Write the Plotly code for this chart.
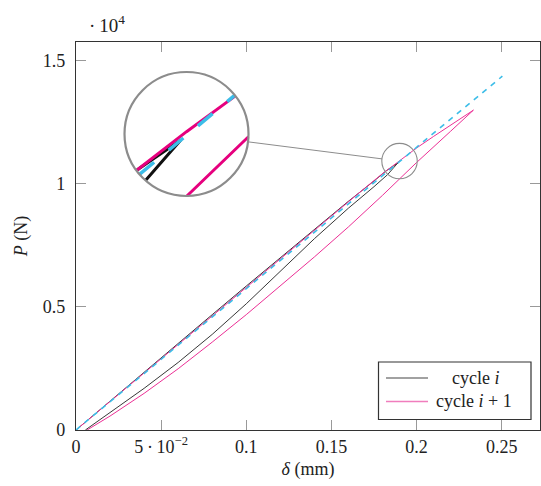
import math
import plotly.graph_objects as go

# ---------------- data ----------------
# cycle i : loading branch then unloading branch
cyc_i_load_x = [0, 0.02, 0.04, 0.06, 0.08, 0.10, 0.12, 0.14, 0.16, 0.175, 0.182, 0.189]
cyc_i_load_y = [0, 1180, 2350, 3520, 4680, 5840, 7000, 8150, 9280, 10100, 10505, 10835]
cyc_i_unload_x = [0.183, 0.175, 0.16, 0.14, 0.12, 0.10, 0.08, 0.06, 0.04, 0.02, 0.0055]
cyc_i_unload_y = [10360, 9870, 9000, 7760, 6440, 5120, 3880, 2740, 1690, 720, 0]

# cycle i+1
cyc_j_load_x = [0, 0.03, 0.06, 0.09, 0.12, 0.15, 0.17, 0.18, 0.19, 0.20, 0.21, 0.22, 0.2334]
cyc_j_load_y = [0, 1740, 3480, 5210, 6950, 8690, 9835, 10400, 10935, 11440, 11910, 12375, 12976]
cyc_j_unload_x = [0.22, 0.20, 0.18, 0.16, 0.14, 0.12, 0.10, 0.08, 0.06, 0.04, 0.02, 0.0065]
cyc_j_unload_y = [12120, 10850, 9520, 8240, 7020, 5840, 4680, 3565, 2485, 1486, 566, 0]

# dashed reference stiffness line
ref_x = [0, 0.2504]
ref_y = [0, 14355]

x_tickvals = [0, 0.05, 0.1, 0.15, 0.2, 0.25]
x_ticktext = ["0", "5\u2009·\u200910<sup>\u22122</sup>", "0.1", "0.15", "0.2", "0.25"]
y_tickvals = [0, 5000, 10000, 15000]
y_ticktext = ["0", "0.5", "1", "1.5"]

legend_labels = ["cycle <i>i</i>", "cycle <i>i</i> + 1"]

# ---------------- layout constants ----------------
W, H = 541, 486
ML, MR, MT, MB = 76, 1, 42, 56
PW, PH = W - ML - MR, H - MT - MB
X_RANGE = [0, 0.2725]
Y_RANGE = [0, 15740]
kx = PW / (X_RANGE[1] - X_RANGE[0])
ky = PH / (Y_RANGE[1] - Y_RANGE[0])

SPY_X, SPY_Y = 0.19, 10908       # centre of the magnified spot
INSET_X, INSET_Y = 0.0649, 12008  # centre of the inset
R_BIG = 62.0
MAG = 3.5
R_SMALL = R_BIG / MAG

BLACK = "#383838"
MAGENTA = "#ec2f95"
MAGENTA_DEEP = "#e6007e"
CYAN = "#3cbde8"
GREY = "#8c8c8c"
FONT = "Liberation Serif"
TXT = "#222222"


def px(xp):
    return (xp - ML) / PW


def py(yp):
    return (H - MB - yp) / PH


cyc_i_x = cyc_i_load_x + cyc_i_unload_x
cyc_i_y = cyc_i_load_y + cyc_i_unload_y
cyc_j_x = cyc_j_load_x + cyc_j_unload_x
cyc_j_y = cyc_j_load_y + cyc_j_unload_y


def spy(xs, ys):
    """Clip polyline to the small circle and map it into the inset."""
    pts = [((x - SPY_X) * kx, (y - SPY_Y) * ky) for x, y in zip(xs, ys)]
    out = []
    last = None
    r = R_SMALL
    for (ax, ay), (bx, by) in zip(pts[:-1], pts[1:]):
        dx, dy = bx - ax, by - ay
        a = dx * dx + dy * dy
        b = 2 * (ax * dx + ay * dy)
        c = ax * ax + ay * ay - r * r
        disc = b * b - 4 * a * c
        if a == 0 or disc <= 0:
            continue
        s = math.sqrt(disc)
        t0, t1 = (-b - s) / (2 * a), (-b + s) / (2 * a)
        lo, hi = max(0.0, t0), min(1.0, t1)
        if lo >= hi:
            continue
        p0 = (ax + lo * dx, ay + lo * dy)
        p1 = (ax + hi * dx, ay + hi * dy)
        if last is not None and abs(last[0] - p0[0]) < 1e-9 and abs(last[1] - p0[1]) < 1e-9:
            out.append(p1)
        else:
            if out:
                out.append(None)
            out.extend([p0, p1])
        last = p1
    X, Y = [], []
    for p in out:
        if p is None:
            X.append(None)
            Y.append(None)
        else:
            X.append(INSET_X + p[0] * MAG / kx)
            Y.append(INSET_Y + p[1] * MAG / ky)
    return X, Y


fig = go.Figure()

fig.add_trace(go.Scatter(x=cyc_i_x, y=cyc_i_y, mode="lines", name=legend_labels[0],
                         showlegend=False, line=dict(color=BLACK, width=1)))
fig.add_trace(go.Scatter(x=cyc_j_x, y=cyc_j_y, mode="lines", name=legend_labels[1],
                         showlegend=False, line=dict(color=MAGENTA, width=1)))
fig.add_trace(go.Scatter(x=ref_x, y=ref_y, mode="lines", showlegend=False,
                         line=dict(color=CYAN, width=1.6, dash="5.5px,5.5px")))

# inset (magnified) copies
ix, iy = spy(cyc_i_x, cyc_i_y)
fig.add_trace(go.Scatter(x=ix, y=iy, mode="lines", showlegend=False,
                         line=dict(color="#111111", width=3)))
jx, jy = spy(cyc_j_x, cyc_j_y)
fig.add_trace(go.Scatter(x=jx, y=jy, mode="lines", showlegend=False,
                         line=dict(color=MAGENTA_DEEP, width=3)))
rx_, ry_ = spy(ref_x, ref_y)
fig.add_trace(go.Scatter(x=rx_, y=ry_, mode="lines", showlegend=False,
                         line=dict(color=CYAN, width=3.5, dash="19px,19px")))

# connecting line between circles
dxp = (SPY_X - INSET_X) * kx
dyp = (SPY_Y - INSET_Y) * ky
L = math.hypot(dxp, dyp)
ux, uy = dxp / L, dyp / L
lx0 = INSET_X + R_BIG * ux / kx
ly0 = INSET_Y + R_BIG * uy / ky
lx1 = SPY_X - R_SMALL * ux / kx
ly1 = SPY_Y - R_SMALL * uy / ky

shapes = [
    dict(type="circle", xref="x", yref="y", xsizemode="pixel", ysizemode="pixel",
         xanchor=INSET_X, yanchor=INSET_Y, x0=-R_BIG, x1=R_BIG, y0=-R_BIG, y1=R_BIG,
         fillcolor="white", line=dict(width=0), layer="below"),
    dict(type="circle", xref="x", yref="y", xsizemode="pixel", ysizemode="pixel",
         xanchor=INSET_X, yanchor=INSET_Y, x0=-R_BIG, x1=R_BIG, y0=-R_BIG, y1=R_BIG,
         line=dict(color=GREY, width=2.2), layer="above"),
    dict(type="circle", xref="x", yref="y", xsizemode="pixel", ysizemode="pixel",
         xanchor=SPY_X, yanchor=SPY_Y, x0=-R_SMALL, x1=R_SMALL, y0=-R_SMALL, y1=R_SMALL,
         line=dict(color=GREY, width=1.1), layer="above"),
    dict(type="line", xref="x", yref="y", x0=lx0, y0=ly0, x1=lx1, y1=ly1,
         line=dict(color=GREY, width=1), layer="above"),
    # legend box and samples
    dict(type="rect", xref="paper", yref="paper", x0=px(378.5), x1=px(531), y0=py(419.5), y1=py(362),
         fillcolor="white", line=dict(color="#333333", width=1.2), layer="above"),
    dict(type="line", xref="paper", yref="paper", x0=px(386), x1=px(428), y0=py(378), y1=py(378),
         line=dict(color="#444444", width=1.1), layer="above"),
    dict(type="line", xref="paper", yref="paper", x0=px(386), x1=px(428), y0=py(401.5), y1=py(401.5),
         line=dict(color="#f07dbd", width=1.5), layer="above"),
]

axis_common = dict(
    showline=True, linecolor="#333333", linewidth=1.2, mirror="ticks",
    ticks="inside", ticklen=10, tickcolor="#999999", tickwidth=1,
    showgrid=False, zeroline=False,
    tickfont=dict(family=FONT, size=18, color=TXT),
)

annotations = [
    dict(text="·\u200910<sup>4</sup>", xref="paper", yref="paper",
         x=0, y=1, xanchor="left", yanchor="bottom", xshift=11, yshift=4,
         showarrow=False, font=dict(family=FONT, size=19, color=TXT)),
    dict(text=legend_labels[0], xref="paper", yref="paper", x=px(475), y=py(378),
         xanchor="center", yanchor="middle", showarrow=False,
         font=dict(family=FONT, size=18, color=TXT)),
    dict(text=legend_labels[1], xref="paper", yref="paper", x=px(474), y=py(401),
         xanchor="center", yanchor="middle", showarrow=False,
         font=dict(family=FONT, size=18, color=TXT)),
]

fig.update_layout(
    width=W, height=H,
    margin=dict(l=ML, r=MR, t=MT, b=MB),
    paper_bgcolor="white", plot_bgcolor="white",
    font=dict(family=FONT, size=18, color=TXT),
    xaxis=dict(range=X_RANGE, tickmode="array", tickvals=x_tickvals, ticktext=x_ticktext,
               ticklabelstandoff=0,
               title=dict(text="<i>δ</i> (mm)", standoff=6,
                          font=dict(family=FONT, size=18, color=TXT)),
               **axis_common),
    yaxis=dict(range=Y_RANGE, tickmode="array", tickvals=y_tickvals, ticktext=y_ticktext,
               ticklabelstandoff=6,
               title=dict(text="<i>P</i> (N)", standoff=10,
                          font=dict(family=FONT, size=18, color=TXT)),
               **axis_common),
    shapes=shapes,
    showlegend=False,
    annotations=annotations,
)

fig.write_html("out.html")
